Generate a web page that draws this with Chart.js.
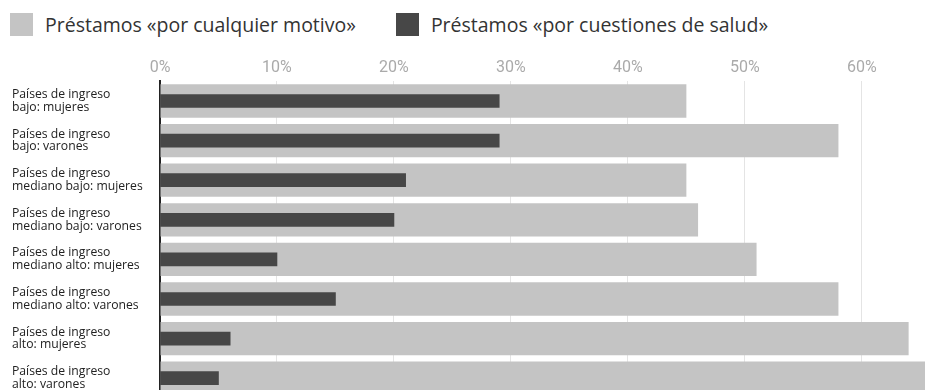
<!DOCTYPE html>
<html lang="es">
<head>
<meta charset="utf-8">
<script src="https://cdn.jsdelivr.net/npm/chart.js@4.4.1/dist/chart.umd.min.js"></script>
<style>
  html, body { margin: 0; padding: 0; background: #fff; overflow: hidden; }
  body { width: 925px; height: 390px; position: relative; }
  .legend { position: absolute; top: 13px; left: 10px; display: flex; align-items: center;
            font-family: "Open Sans", sans-serif; font-size: 19.5px; color: #333; }
  .legend span.box { display: inline-block; width: 23px; height: 23px; margin-right: 12px; }
  .legend .item { display: flex; align-items: center; margin-right: 40px; height: 23px; }
  #chart { position: absolute; top: 0; left: 0; }
</style>
</head>
<body>
<div class="legend">
  <div class="item"><span class="box" style="background:#c4c4c4"></span>Préstamos «por cualquier motivo»</div>
  <div class="item"><span class="box" style="background:#474747"></span>Préstamos «por cuestiones de salud»</div>
</div>
<canvas id="chart" width="925" height="400"></canvas>
<script>
// categorías (dos líneas por etiqueta)
const categories = [
  ['Países de ingreso', 'bajo: mujeres'],
  ['Países de ingreso', 'bajo: varones'],
  ['Países de ingreso', 'mediano bajo: mujeres'],
  ['Países de ingreso', 'mediano bajo: varones'],
  ['Países de ingreso', 'mediano alto: mujeres'],
  ['Países de ingreso', 'mediano alto: varones'],
  ['Países de ingreso', 'alto: mujeres'],
  ['Países de ingreso', 'alto: varones']
];
const anyReason = [45, 58, 45, 46, 51, 58, 64, 67];
const healthReason = [29, 29, 21, 20, 10, 15, 6, 5];
const xTicks = [0, 10, 20, 30, 40, 50, 60];

new Chart(document.getElementById('chart'), {
    type: 'bar',
    data: {
        labels: categories,
        datasets: [{
            label: 'Préstamos «por cuestiones de salud»',
            data: healthReason,
            backgroundColor: '#474747',
            borderWidth: 0,
            barThickness: 13,
            order: 0
        }, {
            label: 'Préstamos «por cualquier motivo»',
            data: anyReason,
            backgroundColor: '#c4c4c4',
            borderWidth: 0,
            categoryPercentage: 1,
            barPercentage: 0.84,
            order: 1
        }]
    },
    options: {
        indexAxis: 'y',
        responsive: false,
        animation: false,
        layout: { padding: { top: 54, left: 12, right: 0, bottom: 2 } },
        scales: {
            x: {
                position: 'top',
                min: 0,
                max: 65.4,
                afterBuildTicks: (scale) => {
                    scale.ticks = xTicks.map(v => ({ value: v }));
                },
                ticks: {
                    callback: (v) => v + '%',
                    color: '#aaaaaa',
                    font: { family: 'Roboto', size: 16 },
                    padding: 4
                },
                grid: { color: '#e4e4e4', drawTicks: false },
                border: { display: false }
            },
            y: {
                stacked: true,
                grid: { display: false },
                border: { color: '#222', width: 2 },
                afterFit: (scale) => {
                    scale.width = 148;
                    // labels sit inside their rows, no extra room needed above/below
                    scale.paddingTop = 0;
                    scale.paddingBottom = 0;
                },
                ticks: {
                    crossAlign: 'far',
                    color: '#222',
                    font: { family: 'Open Sans', size: 12.2, lineHeight: 1.05 },
                    padding: 8
                }
            }
        },
        plugins: {
            legend: { display: false },
            tooltip: { enabled: false }
        }
    }
});
</script>
</body>
</html>
